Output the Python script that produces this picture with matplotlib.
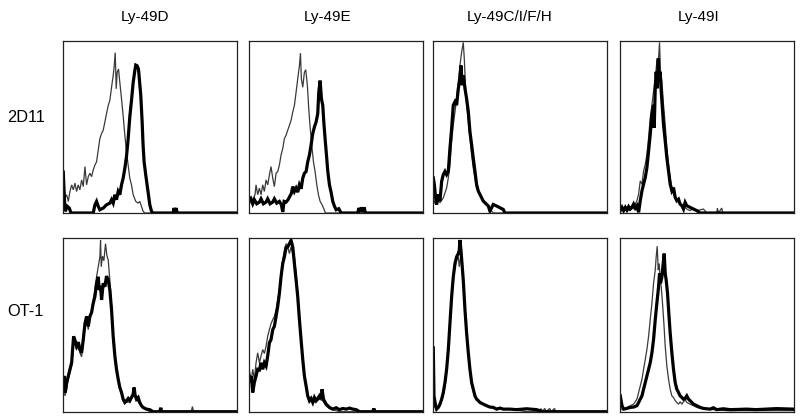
import matplotlib
matplotlib.use("Agg")
import matplotlib.pyplot as plt

plt.rcParams['font.family'] = ['Liberation Sans', 'DejaVu Sans']

columns = ["Ly-49D", "Ly-49E", "Ly-49C/I/F/H", "Ly-49I"]
rows = ["2D11", "OT-1"]

# ---- Row 2D11 ----
# Ly-49D
r1c1_thin_x = [0, 2.5, 4.9, 7.4, 9.8, 12.3, 14.7, 17.2, 19.6, 22, 24.5, 27, 29.4, 31.9, 34.3, 36.8, 39.2, 41.7, 44.1, 46.6, 49, 51.5, 53.9, 56.4, 58.8, 61.3, 63.7, 66.2, 68.6, 71.1, 73.5, 75, 76.5, 78, 79.4, 81.4, 83.3, 85.8, 88.2, 90.7, 93.1, 95.6, 98, 100.5, 103, 106.8, 110.3, 112.7, 115.2, 117.6, 120, 256]
r1c1_thin_y = [24, 8.7, 10.7, 6.8, 12.6, 16.5, 13.6, 17.5, 12.6, 16.5, 13.6, 19.4, 15.5, 27.2, 16.5, 21.3, 23.3, 21.3, 25.2, 28.1, 30, 36.9, 43.6, 46.6, 48.5, 53.4, 58.2, 63, 66, 73.7, 80.5, 86, 94, 72.8, 82.5, 84.4, 76.6, 67, 57, 45.6, 36, 28, 20.4, 16.5, 10.7, 6.8, 5.8, 6.8, 3.9, 1, 0, 0]
r1c1_thick_x = [0, 1.5, 2.9, 5.9, 8.8, 11.3, 44.1, 46.6, 49, 51.5, 53.9, 58.8, 63.7, 68.6, 71.1, 73.5, 76, 78.4, 80.9, 83.3, 85.8, 88.2, 90.7, 93.1, 95.6, 98, 100.5, 103, 105.4, 106.8, 108.8, 110.8, 112.7, 114.2, 116.2, 117.6, 119.1, 121.5, 123.5, 125.5, 127.5, 130, 132.4, 161.8, 163.3, 164.8, 166.3, 167.8, 256]
r1c1_thick_y = [24, 8.7, 1, 3.9, 2.9, 0, 0, 4.8, 6.8, 3.9, 1.9, 2.9, 4.8, 5.8, 7.8, 5.8, 10.7, 7.8, 12.6, 10.7, 16.5, 20.4, 26.2, 33, 43.6, 56.3, 66, 76.6, 83.4, 86.7, 86.3, 84.4, 75.7, 68.9, 53.4, 39.8, 30, 22.3, 16.5, 10.7, 4.8, 1, 0, 0, 2.9, 0.5, 2.9, 0, 0]

# Ly-49E
r1c2_thin_x = [0, 3.4, 6.9, 9.3, 10.8, 13.2, 15.7, 18.1, 20.6, 23, 25.5, 27.9, 30.4, 32.8, 35.3, 37.7, 40.2, 42.6, 45.1, 47.5, 50, 52.4, 54.9, 57.3, 59.8, 62.2, 64.7, 67.1, 69.6, 72, 74.5, 76, 77.4, 79.4, 81.8, 83.8, 86.2, 88.2, 90.2, 92.6, 95.1, 97.5, 100, 102.4, 104.9, 107.8, 110.3, 112.7, 256]
r1c2_thin_y = [4.8, 6.8, 8.7, 10.7, 16.5, 10.7, 14.6, 10.7, 16.5, 12.6, 19.4, 16.5, 22.3, 27.2, 20.4, 15.5, 23.3, 24.3, 28.1, 34, 37.8, 43.6, 45.6, 48.5, 51.4, 54.3, 59.2, 63, 70.8, 78.6, 86.3, 93.7, 78.6, 73.7, 82.5, 84, 74.7, 61.1, 50.4, 39.8, 30, 24.3, 16.5, 10.7, 6.8, 4.8, 2.5, 0, 0]
r1c2_thick_x = [0, 2.9, 5.9, 8.3, 11.8, 15.7, 18.1, 21.6, 25.5, 27.9, 31.4, 35.3, 37.7, 41.2, 45.1, 48, 50, 52, 54.9, 57.8, 60.3, 62.8, 64.7, 67.1, 69.6, 72, 74.5, 77, 79.4, 81.8, 84.3, 86.7, 89.2, 91.6, 94.1, 96.5, 99, 101.4, 102.9, 104.9, 106.8, 108.8, 110.3, 112.2, 114.2, 116.2, 118.6, 121, 123.5, 126, 128.4, 132.3, 135.7, 160.2, 161.7, 163.7, 165.6, 167.6, 169.5, 171.5, 256]
r1c2_thick_y = [7.8, 8.7, 5.4, 7.8, 5.4, 6.4, 8.3, 5.4, 6.4, 8.3, 5.4, 6.4, 8.3, 5.8, 6.8, 4.8, 0.6, 6.8, 6.4, 7.8, 9.7, 11.6, 15.5, 12.6, 14.6, 12.2, 16.5, 14.2, 20.4, 23.3, 24.3, 30, 34, 39.8, 46.6, 50.4, 53.4, 58.2, 70.8, 77.6, 67, 63, 53.4, 43.6, 34, 24.3, 16.5, 12.2, 6.8, 3.9, 1.9, 2.5, 0, 0, 2.9, 0.6, 3.3, 0.6, 3.3, 0, 0]

# Ly-49C/I/F/H
r1c3_thin_x = [0, 4.9, 9.8, 14.7, 19.6, 22.1, 24.5, 27, 29.4, 31.9, 34.3, 36.8, 39.2, 41.7, 44.1, 45.6, 47.1, 49, 51.5, 53.9, 56.4, 58.8, 61.3, 63.7, 68.6, 73.5, 78.4, 83.3, 88.2, 256]
r1c3_thin_y = [5, 8.9, 6, 8.9, 14.7, 20.6, 28.3, 41.9, 51.6, 59.4, 67.1, 76.8, 86.5, 94.3, 100, 90.4, 76.8, 63.2, 53.5, 43.8, 34.1, 26.4, 20.6, 14.7, 10.9, 7, 5, 2.1, 0, 0]
r1c3_thick_x = [0, 1.5, 3.4, 4.9, 7.4, 9.8, 12.3, 14.7, 17.2, 19.6, 22.1, 24.5, 27, 29.4, 31.9, 34.3, 36.8, 39.2, 40.7, 42.6, 44.1, 46.6, 49, 51.5, 53.9, 56.4, 58.8, 61.3, 63.7, 66.2, 68.6, 71.1, 73.5, 76, 80.9, 83.3, 85.8, 88.2, 93.1, 98, 102.9, 105.4, 256]
r1c3_thick_y = [20.6, 16.7, 8.9, 5, 10.9, 7, 18.6, 22.5, 24.4, 22.5, 24.4, 38, 49.7, 63.2, 65.2, 63.2, 72.9, 78.8, 86.5, 74.9, 80.7, 72.9, 67.1, 59.4, 47.7, 40, 32.2, 24.4, 16.7, 12.8, 10.9, 8.9, 7, 6, 4.1, 1.2, 3.1, 5, 4.1, 3.1, 2.1, 0, 0]

# Ly-49I
r1c4_thin_x = [0, 4.9, 9.8, 14.7, 17.2, 19.6, 22.1, 24.5, 27, 29.4, 31.9, 34.3, 36.8, 39.2, 41.7, 44.1, 46.6, 49, 51.5, 53.9, 56.4, 57.8, 59.3, 61.3, 63.7, 66.2, 68.6, 71.1, 73.5, 76, 78.4, 83.3, 88.2, 93.1, 98, 102.9, 107.8, 112.7, 122.5, 127.4, 142.1, 143.1, 144.6, 149.5, 151, 256]
r1c4_thin_y = [1.4, 2.3, 1.4, 1.7, 4.3, 2.3, 5.2, 7.2, 11.1, 18.8, 16.9, 24.6, 28.5, 34.3, 44, 55.7, 63.4, 71.2, 79, 88.7, 90.6, 100, 82.8, 77, 63.4, 51.8, 38.2, 28.5, 20.8, 14.9, 11.1, 7.2, 5.2, 4.3, 2.3, 1.4, 2.9, 1.4, 2.3, 0, 0, 2.9, 0, 2.9, 0, 0]
r1c4_thick_x = [0, 2.5, 4.9, 7.4, 9.8, 12.3, 14.7, 17.2, 19.6, 22.1, 24.5, 27, 29.4, 31.9, 34.3, 36.8, 39.2, 41.7, 44.1, 46.6, 49, 50, 51.5, 52.9, 54.4, 55.9, 57.3, 58.8, 60.3, 61.7, 63.7, 66.2, 68.6, 71.1, 73.5, 76, 78.4, 80.9, 83.3, 85.8, 88.2, 90.7, 93.1, 95.6, 98, 102.9, 107.8, 112.7, 117.6, 256]
r1c4_thick_y = [1.4, 3.3, 1.4, 3.3, 1.7, 3.7, 2.3, 3.3, 5.2, 2.9, 4.3, 0.4, 7.2, 13, 16.9, 20.8, 26.6, 36.3, 46, 57.6, 63.4, 49.9, 73.1, 82.8, 73.1, 90.6, 77, 82.8, 71.2, 63.4, 51.8, 42.1, 32.4, 24.6, 16.9, 13, 14.9, 9.1, 7.2, 8.1, 5.2, 4.3, 2.3, 6.2, 4.3, 3.3, 2.3, 1.4, 0, 0]

# ---- Row OT-1 ----
# Ly-49D
r2c1_thin_x = [0, 2.5, 4.9, 7.4, 9.8, 12.3, 14.7, 17.2, 19.6, 22.1, 24.5, 27, 29.4, 31.9, 34.3, 36.8, 39.2, 41.7, 44.1, 46.6, 49, 51.5, 53.9, 54.9, 55.9, 57.8, 59.8, 62.2, 64.2, 66.2, 68.6, 71.1, 73.5, 76, 78.4, 80.9, 83.3, 85.8, 88.2, 93.1, 98, 102.9, 105.4, 107.8, 112.7, 117.6, 122.5, 127.4, 188.5, 190.3, 192, 256]
r2c1_thin_y = [17, 9.2, 13.1, 18.9, 22.7, 26.6, 38.2, 39.7, 36.2, 38.2, 34.3, 32, 40.1, 49.3, 53.6, 47.8, 55.5, 59, 65.1, 70.9, 78.6, 84.4, 90.2, 99.8, 84.4, 90.6, 87.9, 97.9, 91.1, 88.3, 76.7, 61.3, 45.9, 34.3, 24.7, 18.5, 13.5, 10.2, 6.4, 5.4, 5.8, 9.2, 11.2, 7.3, 4.4, 1.9, 1.2, 0, 0, 3, 0, 0]
r2c1_thick_x = [0, 1.5, 2.9, 4.9, 7.4, 9.8, 12.3, 13.7, 15.2, 17.2, 19.6, 22.1, 24.5, 27, 29.4, 31.9, 34.3, 36.8, 39.2, 41.7, 44.1, 46.6, 49, 51.5, 52.9, 54.9, 56.4, 58.8, 61.3, 63.7, 66.2, 68.6, 71.1, 73.5, 76, 78.4, 80.9, 83.3, 85.8, 88.2, 90.7, 93.1, 95.6, 98, 100.5, 102.9, 104.4, 105.8, 107.8, 110.3, 112.7, 115.2, 117.6, 122.5, 127.4, 132.3, 142.1, 143.6, 145, 256]
r2c1_thick_y = [18.9, 20.8, 11.2, 17, 20.8, 24.7, 28.5, 36.2, 43.9, 41.6, 38.2, 40.5, 36.2, 34.3, 42, 51.3, 55.5, 49.7, 55.5, 57.8, 63.2, 67.1, 74.8, 78.6, 70.9, 73.2, 65.1, 74.8, 72.8, 79, 76.7, 70.9, 59.4, 43.9, 32.4, 24.7, 18.9, 14.1, 11.2, 7.3, 5.4, 6.4, 7.7, 6.4, 8.3, 10.2, 14.1, 9.6, 7.3, 8.3, 5.4, 3.5, 2.5, 1.5, 1.2, 0, 0, 2.3, 0, 0]

# Ly-49E
r2c2_thin_x = [0, 3.4, 5.9, 8.3, 10.8, 13.2, 15.7, 18.1, 20.6, 23, 25.5, 27.9, 30.4, 32.8, 35.3, 37.7, 40.2, 42.6, 45.1, 47.5, 50, 52.4, 54.9, 57.3, 59.8, 62.2, 64.7, 67.1, 69.6, 72, 74.5, 76.9, 79.4, 81.8, 84.3, 86.7, 89.2, 94.1, 99, 103.9, 108.8, 113.7, 118.6, 123.5, 133.3, 256]
r2c2_thin_y = [20.8, 17, 24.7, 18.9, 28.5, 34.3, 28.5, 32.4, 36.2, 33.9, 38.2, 43.9, 47.8, 51.3, 53.6, 55.5, 59.4, 65.1, 70.9, 80.5, 88.3, 94, 97.9, 96, 92.1, 96, 92.1, 90.2, 80.5, 69, 55.5, 42, 30.4, 20.4, 14.1, 9.2, 6.4, 5.4, 5.8, 7.3, 6.4, 3.5, 1.9, 1.2, 0, 0]
r2c2_thick_x = [0, 2, 3.9, 5.9, 8.3, 10.8, 13.2, 15.7, 18.1, 20.6, 23, 25.5, 27.9, 30.4, 32.8, 35.3, 37.7, 40.2, 42.6, 45.1, 47.5, 50, 52.4, 54.9, 57.3, 59.8, 62.2, 64.7, 67.1, 69.6, 72, 74.5, 76.9, 79.4, 81.8, 84.3, 86.7, 89.2, 91.6, 94.1, 96.5, 99, 101.4, 103.9, 106.3, 107.8, 109.8, 113.7, 118.6, 123.5, 128.4, 133.3, 138.2, 143.1, 148, 152.9, 157.8, 162.7, 182.3, 183.8, 185.2, 256]
r2c2_thick_y = [22.7, 17, 20.8, 11.2, 17, 20.8, 24.7, 24.3, 28.5, 24.7, 28.5, 26.6, 32.4, 40.1, 42, 47.8, 49.7, 55.5, 61.3, 69, 78.6, 86.3, 90.2, 95.6, 96, 97.9, 99.8, 96, 86.3, 76.7, 67.1, 53.6, 42, 30.4, 20.8, 15, 9.2, 6.4, 7.7, 5.4, 8.3, 6.4, 7.7, 9.2, 7.3, 13.1, 7.3, 4.4, 2.5, 1.5, 2.3, 1.2, 1.9, 1.5, 2.1, 1.5, 1.2, 0, 0, 1.9, 0, 0]

# Ly-49C/I/F/H
r2c3_thin_x = [0, 4.9, 9.8, 14.7, 17.2, 19.6, 22.1, 24.5, 27, 29.4, 31.9, 34.3, 36.8, 38.2, 40.2, 42.1, 44.1, 46.6, 49, 51.5, 53.9, 56.4, 58.8, 63.7, 68.6, 78.4, 93.1, 112.7, 127.4, 137.2, 156.8, 158.3, 159.7, 164.2, 165.6, 171.5, 173, 178.4, 179.8, 256]
r2c3_thin_y = [3.5, 1.5, 3.5, 9.2, 15, 22.7, 34.3, 49.7, 65.1, 76.7, 84.4, 88.3, 90.2, 84.4, 90.2, 86.3, 74.8, 57.4, 43.9, 32.4, 22.7, 16, 12.1, 7.3, 5.4, 3.5, 1.9, 1.5, 0.6, 0, 0, 1.9, 0, 1.9, 0, 1.9, 0, 1.9, 0, 0]
r2c3_thick_x = [0, 1, 3.4, 4.9, 7.4, 9.8, 12.3, 14.7, 17.2, 19.6, 22.1, 24.5, 27, 29.4, 31.9, 34.3, 36.8, 38.2, 39.2, 40.7, 42.6, 44.1, 46.6, 49, 51.5, 53.9, 56.4, 58.8, 61.3, 63.7, 66.2, 68.6, 73.5, 78.4, 83.3, 88.2, 93.1, 98, 102.9, 112.7, 122.5, 137.2, 151.9, 161.7, 256]
r2c3_thick_y = [37.2, 9.2, 3.5, 1.5, 2.5, 4.4, 7.3, 11.2, 17, 24.7, 36.2, 51.6, 67.1, 78.6, 86.3, 90.2, 92.1, 94, 100, 94, 84.4, 76.7, 59.4, 45.9, 34.3, 24.7, 17, 13.1, 9.2, 7.3, 6.4, 5.4, 4.4, 3.5, 2.7, 2.5, 1.5, 2.1, 1.5, 1.5, 1.2, 1.7, 1.2, 0, 0]

# Ly-49I
r2c4_thin_x = [0, 4.9, 9.8, 14.7, 19.6, 24.5, 27, 29.4, 31.9, 34.3, 36.8, 39.2, 41.7, 44.1, 46.6, 49, 51.5, 52.9, 54.4, 55.9, 57.3, 58.8, 60.3, 62.2, 64.2, 66.2, 68.6, 71.1, 73.5, 76, 78.4, 80.9, 83.3, 85.8, 88.2, 90.7, 93.1, 95.6, 98, 102.9, 107.8, 112.7, 122.5, 137.2, 156.8, 186.2, 256]
r2c4_thin_y = [1.5, 1.5, 2.5, 3.5, 4.4, 7.3, 11.2, 15, 18.9, 24.7, 30.4, 36.2, 43.9, 53.6, 63.2, 74.8, 82.5, 90.2, 96.4, 82.5, 86.3, 76.7, 72.8, 63.2, 51.6, 38.2, 26.6, 18.9, 13.1, 9.2, 8.3, 6.4, 5.4, 4.4, 5.8, 4.4, 5.8, 6.9, 5.4, 4.4, 3.5, 2.5, 1.5, 1.2, 0.6, 0.6, 0.6]
r2c4_thick_x = [0, 2.5, 4.9, 9.8, 14.7, 19.6, 24.5, 27, 29.4, 31.9, 34.3, 36.8, 39.2, 41.7, 44.1, 46.6, 49, 51.5, 53.9, 56.4, 57.8, 59.3, 61.3, 62.7, 64.7, 66.2, 67.6, 69.6, 71.5, 73.5, 76, 78.4, 80.9, 83.3, 85.8, 88.2, 90.7, 93.1, 95.6, 98, 100.5, 102.9, 107.8, 112.7, 117.6, 122.5, 132.3, 137.2, 142.1, 151.9, 161.7, 171.5, 186.2, 200, 230, 256]
r2c4_thick_y = [9.2, 3.5, 1.5, 1.9, 2.5, 2.7, 3.5, 5.4, 7.3, 9.2, 13.1, 17, 20.8, 24.7, 28.5, 34.3, 42, 53.6, 63.2, 72.8, 80.5, 74.8, 78.6, 84.4, 92.1, 80.5, 76.7, 69, 57.4, 45.9, 34.3, 24.7, 17, 13.1, 11.2, 9.2, 8.3, 7.3, 7.7, 9.2, 7.3, 6.4, 4.4, 3.5, 2.5, 1.9, 1.5, 2.3, 1.2, 1.7, 1.2, 1.3, 1.5, 1.2, 1.8, 1.5]

curves = [
    [(r1c1_thin_x, r1c1_thin_y, r1c1_thick_x, r1c1_thick_y),
     (r1c2_thin_x, r1c2_thin_y, r1c2_thick_x, r1c2_thick_y),
     (r1c3_thin_x, r1c3_thin_y, r1c3_thick_x, r1c3_thick_y),
     (r1c4_thin_x, r1c4_thin_y, r1c4_thick_x, r1c4_thick_y)],
    [(r2c1_thin_x, r2c1_thin_y, r2c1_thick_x, r2c1_thick_y),
     (r2c2_thin_x, r2c2_thin_y, r2c2_thick_x, r2c2_thick_y),
     (r2c3_thin_x, r2c3_thin_y, r2c3_thick_x, r2c3_thick_y),
     (r2c4_thin_x, r2c4_thin_y, r2c4_thick_x, r2c4_thick_y)],
]

W, H = 800, 419
fig = plt.figure(figsize=(W / 100, H / 100), dpi=100)
fig.patch.set_facecolor('white')

col_px = [(63.3, 237.0), (248.7, 423.0), (433.3, 607.3), (620.3, 794.0)]
row_px = [(40.7, 213.0), (238.3, 411.7)]
title_cx = [145, 327.5, 510, 699]

for r, (top, bot) in enumerate(row_px):
    for c, (left, right) in enumerate(col_px):
        ax = fig.add_axes([left / W, 1 - bot / H, (right - left) / W, (bot - top) / H])
        tx, ty, kx, ky = curves[r][c]
        ax.plot(tx, ty, color='#3a3a3a', lw=0.9, solid_joinstyle='miter')
        ax.plot(kx, ky, color='black', lw=2.3, solid_joinstyle='miter')
        ax.set_xlim(0, 256)
        ax.set_ylim(0, 101)
        ax.set_xticks([])
        ax.set_yticks([])
        for s in ax.spines.values():
            s.set_linewidth(0.9)
            s.set_color('#222222')

for c, name in enumerate(columns):
    fig.text(title_cx[c] / W, 1 - 17 / H, name, ha='center', va='center', fontsize=11)

row_label_y = [117, 311.7]
for r, name in enumerate(rows):
    fig.text(25.5 / W, 1 - row_label_y[r] / H, name, ha='center', va='center', fontsize=11.8)

fig.savefig('out.png', dpi=100)
